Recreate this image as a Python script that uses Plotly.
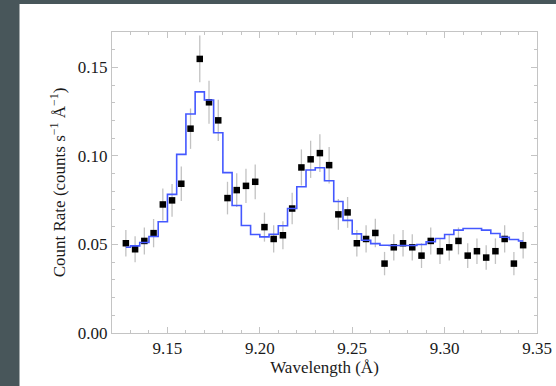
import plotly.graph_objects as go

# Data: wavelength bin centres (Angstrom)
wavelength = [9.1275, 9.1325, 9.1375, 9.1425, 9.1475, 9.1525, 9.1575, 9.1625, 9.1675, 9.1725,
              9.1775, 9.1825, 9.1875, 9.1925, 9.1975, 9.2025, 9.2075, 9.2125, 9.2175, 9.2225,
              9.2275, 9.2325, 9.2375, 9.2425, 9.2475, 9.2525, 9.2575, 9.2625, 9.2675, 9.2725,
              9.2775, 9.2825, 9.2875, 9.2925, 9.2975, 9.3025, 9.3075, 9.3125, 9.3175, 9.3225,
              9.3275, 9.3325, 9.3375, 9.3425]

count_rate = [0.0507, 0.0473, 0.0520, 0.0564, 0.0726, 0.0749, 0.0843, 0.1154, 0.1548, 0.1303,
              0.1201, 0.0762, 0.0807, 0.0831, 0.0854, 0.0598, 0.0531, 0.0552, 0.0703, 0.0935,
              0.0981, 0.1016, 0.0948, 0.0670, 0.0681, 0.0507, 0.0531, 0.0565, 0.0392, 0.0484,
              0.0507, 0.0484, 0.0437, 0.0520, 0.0462, 0.0484, 0.0520, 0.0437, 0.0462, 0.0426,
              0.0462, 0.0531, 0.0392, 0.0496]

count_err = [0.0075, 0.0073, 0.0076, 0.0080, 0.0090, 0.0092, 0.0097, 0.0114, 0.0132, 0.0121,
             0.0116, 0.0092, 0.0095, 0.0097, 0.0098, 0.0082, 0.0077, 0.0079, 0.0089, 0.0102,
             0.0105, 0.0107, 0.0103, 0.0087, 0.0087, 0.0075, 0.0077, 0.0080, 0.0066, 0.0074,
             0.0075, 0.0074, 0.0070, 0.0076, 0.0072, 0.0074, 0.0076, 0.0070, 0.0072, 0.0069,
             0.0072, 0.0077, 0.0066, 0.0075]

model_rate = [0.0484, 0.0492, 0.0511, 0.0545, 0.0628, 0.0783, 0.1009, 0.1237, 0.1362, 0.1316,
              0.1131, 0.0906, 0.0720, 0.0607, 0.0556, 0.0543, 0.0558, 0.0606, 0.0703, 0.0826,
              0.0921, 0.0933, 0.0860, 0.0743, 0.0636, 0.0560, 0.0524, 0.0505, 0.0496, 0.0494,
              0.0494, 0.0494, 0.0500, 0.0515, 0.0534, 0.0556, 0.0581, 0.0590, 0.0590, 0.0581,
              0.0562, 0.0541, 0.0528, 0.0520]

x_ticks = [9.15, 9.20, 9.25, 9.30, 9.35]
y_ticks = [0.00, 0.05, 0.10, 0.15]

FONT = "Liberation Serif"
AXIS_GRAY = "#c4c4c4"
DARK = "#48565a"
TXT = "#1a1a1a"

fig = go.Figure()

fig.add_trace(go.Scatter(
    x=wavelength, y=count_rate, mode="markers",
    marker=dict(symbol="square", size=6.5, color="black"),
    error_y=dict(type="data", array=count_err, visible=True,
                 color="#c2c2c2", thickness=1.3, width=0),
    showlegend=False,
))

fig.add_trace(go.Scatter(
    x=wavelength, y=model_rate, mode="lines",
    line=dict(shape="hvh", color="#4458ff", width=1.6),
    showlegend=False,
))

axis_common = dict(
    showline=True, linecolor=AXIS_GRAY, linewidth=1, mirror="ticks",
    ticks="inside", ticklen=6, tickcolor=AXIS_GRAY, tickwidth=1,
    showgrid=False, zeroline=False,
    tickfont=dict(family=FONT, size=17, color=TXT),
)

fig.update_xaxes(
    range=[9.12, 9.35], tickvals=x_ticks, ticktext=[f"{v:.2f}" for v in x_ticks],
    minor=dict(dtick=0.01, tick0=9.12, ticks="inside", ticklen=3, tickcolor=AXIS_GRAY),
    title=dict(text="Wavelength (Å)", font=dict(family=FONT, size=17, color=TXT), standoff=0),
    **axis_common,
)
fig.update_yaxes(
    range=[0, 0.17], tickvals=y_ticks, ticktext=[f"{v:.2f}" for v in y_ticks],
    minor=dict(dtick=0.01, tick0=0, ticks="inside", ticklen=3, tickcolor=AXIS_GRAY),
    title=dict(text="Count Rate (counts s<sup>−1</sup> Å<sup>−1</sup>)",
               font=dict(family=FONT, size=17, color=TXT), standoff=7),
    **axis_common,
)

W, H = 556, 386
L, R, T, B = 112, 19, 32, 53
pw, ph = W - L - R, H - T - B

def px_x(p):
    return (p - L) / pw

def px_y(p):
    return (H - B - p) / ph

fig.update_layout(
    width=W, height=H,
    margin=dict(l=L, r=R, t=T, b=B, autoexpand=False),
    paper_bgcolor="white", plot_bgcolor="white",
    shapes=[
        dict(type="rect", xref="paper", yref="paper", layer="below",
             x0=px_x(0), x1=px_x(19.5), y0=px_y(H), y1=px_y(0),
             fillcolor=DARK, line=dict(width=0)),
        dict(type="rect", xref="paper", yref="paper", layer="below",
             x0=px_x(0), x1=px_x(W), y0=px_y(4), y1=px_y(0),
             fillcolor=DARK, line=dict(width=0)),
    ],
)

fig.write_html(
    "out.html",
    config={"displayModeBar": False},
    post_script="document.body.style.margin='0';document.body.style.overflow='hidden';",
)
